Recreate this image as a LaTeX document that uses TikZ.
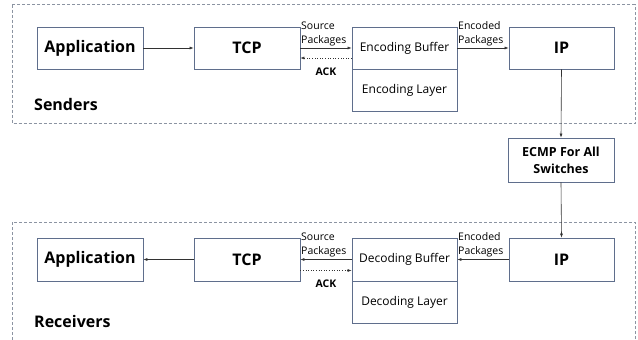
\documentclass[tikz,border=0pt]{standalone}
\usepackage{fontspec}
\setmainfont{Open Sans}
\usetikzlibrary{arrows.meta}
\definecolor{boxline}{RGB}{95,110,140}
\definecolor{grpline}{RGB}{140,148,162}
\definecolor{arr}{RGB}{50,50,50}
\begin{document}
\begin{tikzpicture}[x=1pt,y=-1pt,
  blk/.style={draw=boxline,line width=0.7pt,minimum width=106pt,minimum height=42pt,inner sep=0pt,fill=white},
  bigtxt/.style={font=\fontsize{16}{20}\selectfont\bfseries},
  midtxt/.style={font=\fontsize{12}{15}\selectfont},
  smalltxt/.style={font=\fontsize{10.5}{14}\selectfont,inner sep=0pt,align=left},
  acktxt/.style={font=\fontsize{10.5}{14}\selectfont\bfseries,inner sep=0pt},
  grp/.style={draw=grpline,line width=0.8pt,dash pattern=on 3pt off 2pt},
  con/.style={draw=arr,line width=0.6pt,-{Latex[length=4pt,width=3pt]}},
  ackcon/.style={draw=arr,line width=0.6pt,dotted,-{Latex[length=4pt,width=3pt]}}
]
\useasboundingbox (0,0) rectangle (638,340);
\clip (0,0) rectangle (638,340);
% groups
\draw[grp] (12,4.5) rectangle (635,123);
\draw[grp] (12,360) -- (12,222) -- (635,222) -- (635,360);
\node[bigtxt,anchor=west,inner sep=0pt] (snd) at (34,104) {Senders};
\node[bigtxt,anchor=west,inner sep=0pt] (rcv) at (34,321.5) {Receivers};
% senders
\node[blk,bigtxt] (app1) at (90,48) {Application};
\node[blk,bigtxt] (tcp1) at (247,48) {TCP};
\node[blk,midtxt,minimum width=105pt] (eb) at (404.5,48) {Encoding Buffer};
\node[blk,midtxt,minimum width=105pt] (el) at (404.5,90) {Encoding Layer};
\node[blk,bigtxt,minimum width=105pt] (ip1) at (561.5,48) {IP};
% ecmp
\node[blk,font=\fontsize{12.5}{17}\selectfont\bfseries,align=center,minimum height=44pt] (ecmp) at (561,160) {ECMP For All\\Switches};
% receivers
\node[blk,bigtxt,minimum height=43pt] (app2) at (90,259.5) {Application};
\node[blk,bigtxt,minimum height=43pt] (tcp2) at (247,259.5) {TCP};
\node[blk,midtxt,minimum width=105pt,minimum height=43pt] (db) at (404.5,259.5) {Decoding Buffer};
\node[blk,midtxt,minimum width=105pt] (dl) at (404.5,302) {Decoding Layer};
\node[blk,bigtxt,minimum width=105pt,minimum height=43pt] (ip2) at (561.5,259.5) {IP};
% sender connectors
\draw[con] (app1) -- (tcp1);
\draw[con] (tcp1) -- (eb);
\draw[ackcon] ([yshift=-10pt]eb.west) -- ([yshift=-10pt]tcp1.east);
\draw[con] (eb) -- (ip1);
\node[smalltxt,anchor=south west] (sp1) at (301,46) {Source\\Packages};
\node[acktxt] (ack1) at (326,72) {ACK};
\node[smalltxt,anchor=south west] (ep1) at (458,46) {Encoded\\Packages};
% vertical
\draw[con] (ip1.south) -- (ecmp.north);
\draw[con] (ecmp.south) -- (ip2.north);
% receiver connectors
\draw[con] (tcp2) -- (app2);
\draw[con] (db) -- (tcp2);
\draw[ackcon] ([yshift=-11pt]tcp2.east) -- ([yshift=-11pt]db.west);
\draw[con] (ip2) -- (db);
\node[smalltxt,anchor=south west] (sp2) at (301,257.5) {Source\\Packages};
\node[acktxt] (ack2) at (326,284) {ACK};
\node[smalltxt,anchor=south west] (ep2) at (458,257.5) {Encoded\\Packages};
\end{tikzpicture}
\end{document}
